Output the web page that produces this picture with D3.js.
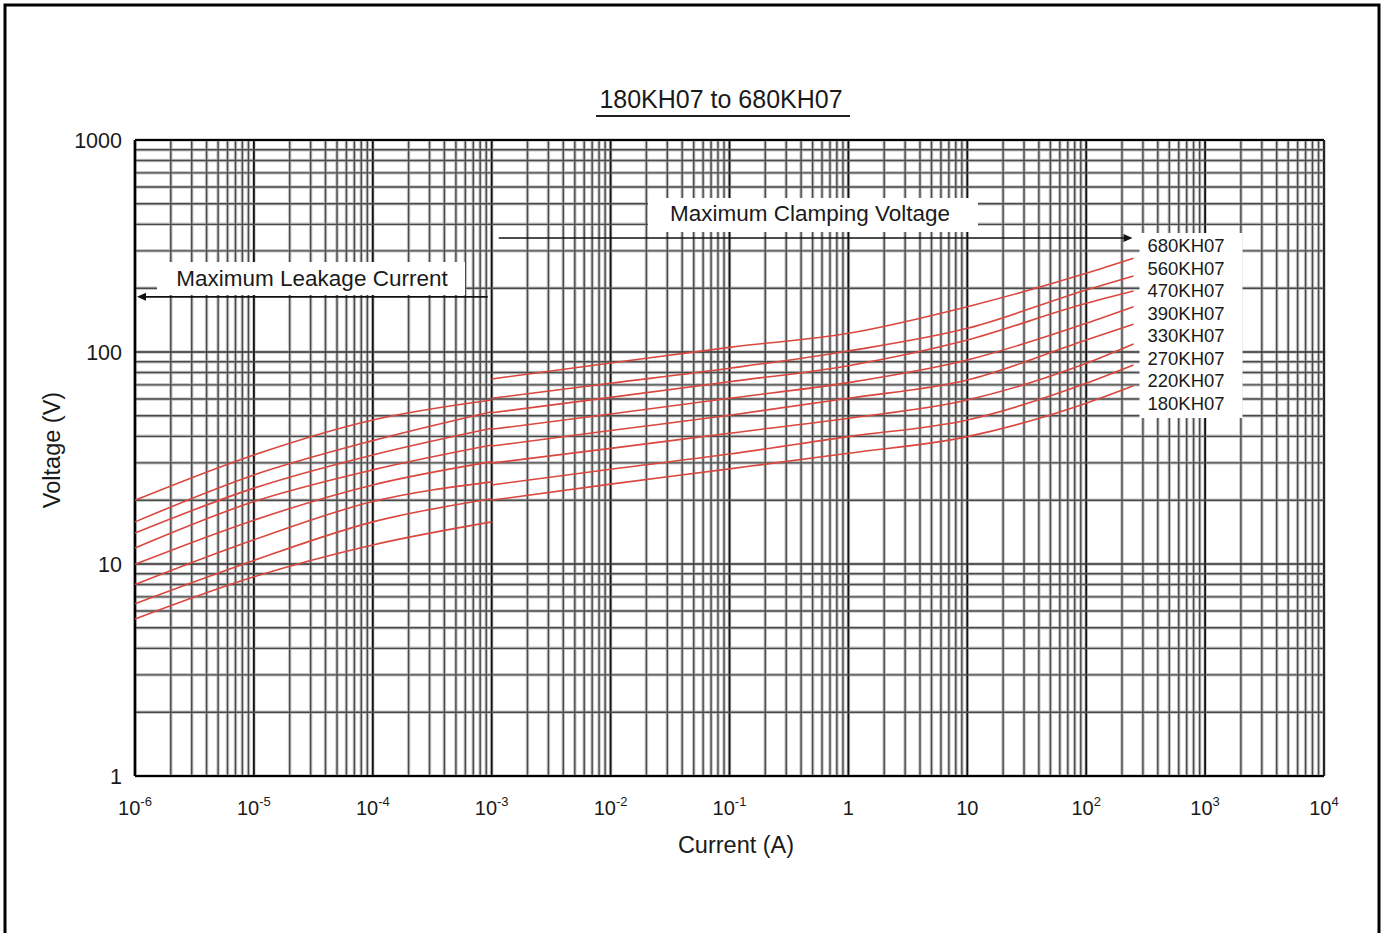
<!DOCTYPE html>
<html>
<head>
<meta charset="utf-8">
<script src="https://cdn.jsdelivr.net/npm/d3@7"></script>
<style>
  body { margin: 0; background: #fff; }
  text { font-family: "Liberation Sans", Arial, sans-serif; fill: #1a1a1a; }
</style>
</head>
<body>
<div id="chart"></div>
<script>
// series, top to bottom
const seriesNames = ["680KH07", "560KH07", "470KH07", "390KH07", "330KH07", "270KH07", "220KH07", "180KH07"];

// leakage current region (A) and voltages (V) per series
const leakCurrent = [1e-6, 1e-5, 1e-4, 1e-3];
const leakVoltage = [
  [20.0, 32.7, 47.8, 59.4],
  [15.8, 26.3, 38.2, 52.3],
  [14.0, 22.8, 32.7, 43.7],
  [11.9, 19.7, 27.8, 36.4],
  [9.97, 16.1, 23.6, 30.4],
  [8.0, 13.0, 19.7, 24.4],
  [6.5, 10.4, 15.8, 20.3],
  [5.5, 8.7, 12.3, 15.8]
];

// clamping voltage region (A) and voltages (V) per series
const clampCurrent = [1e-3, 1e-2, 1e-1, 1, 10, 100, 250];
const clampVoltage = [
  [74.6, 88.7, 105.2, 122.5, 163.6, 235.0, 276.7],
  [60.5, 71.2, 83.8, 101.1, 129.3, 196.1, 228.3],
  [51.7, 61.1, 72.4, 86.2, 113.9, 169.7, 194.0],
  [43.2, 51.0, 60.5, 71.7, 91.7, 136.6, 163.6],
  [36.0, 42.6, 50.3, 60.5, 73.8, 113.9, 135.1],
  [29.9, 35.1, 41.4, 48.7, 59.4, 88.4, 109.1],
  [23.6, 28.0, 33.0, 39.9, 47.8, 71.2, 86.8],
  [20.0, 23.8, 28.1, 33.3, 39.9, 57.3, 69.3]
];

// axis ticks
const xTickValues = [1e-6, 1e-5, 1e-4, 1e-3, 1e-2, 1e-1, 1, 10, 100, 1000, 10000];
const xTickLabels = [["10", "-6"], ["10", "-5"], ["10", "-4"], ["10", "-3"], ["10", "-2"], ["10", "-1"], ["1", ""], ["10", ""], ["10", "2"], ["10", "3"], ["10", "4"]];
const yTickValues = [1, 10, 100, 1000];
const yTickLabels = ["1", "10", "100", "1000"];

const config = {
  containerWidth: 1386,
  containerHeight: 933,
  margin: { top: 140, right: 62, bottom: 157, left: 135 }
};
const width = config.containerWidth - config.margin.left - config.margin.right;
const height = config.containerHeight - config.margin.top - config.margin.bottom;

const svg = d3.select("#chart").append("svg")
    .attr("width", config.containerWidth)
    .attr("height", config.containerHeight);

// outer frame
svg.append("rect")
    .attr("x", 5).attr("y", 5)
    .attr("width", 1374).attr("height", 1000)
    .attr("fill", "none")
    .attr("stroke", "#000")
    .attr("stroke-width", 3);

const chart = svg.append("g")
    .attr("transform", `translate(${config.margin.left},${config.margin.top})`);

const xScale = d3.scaleLog().domain([1e-6, 1e4]).range([0, width]);
const yScale = d3.scaleLog().domain([1, 1000]).range([height, 0]);

// grid values: every 1..9 inside each decade
const xGrid = [];
d3.range(-6, 4).forEach(e => d3.range(1, 10).forEach(m => xGrid.push(m * Math.pow(10, e))));
xGrid.push(1e4);
const yGrid = [];
d3.range(0, 3).forEach(e => d3.range(1, 10).forEach(m => yGrid.push(m * Math.pow(10, e))));
yGrid.push(1000);

const isMajor = v => Math.abs(Math.log10(v) - Math.round(Math.log10(v))) < 1e-9;

const grid = chart.append("g").attr("class", "grid");

// soft halo under every grid line
grid.selectAll("line.vhalo").data(xGrid).join("line")
    .attr("class", "vhalo")
    .attr("x1", d => xScale(d)).attr("x2", d => xScale(d))
    .attr("y1", 0).attr("y2", height)
    .attr("stroke", "#c8c8c8").attr("stroke-width", 3.5);
grid.selectAll("line.hhalo").data(yGrid).join("line")
    .attr("class", "hhalo")
    .attr("y1", d => yScale(d)).attr("y2", d => yScale(d))
    .attr("x1", 0).attr("x2", width)
    .attr("stroke", "#c8c8c8").attr("stroke-width", 3.5);

grid.selectAll("line.v").data(xGrid).join("line")
    .attr("class", "v")
    .attr("x1", d => xScale(d)).attr("x2", d => xScale(d))
    .attr("y1", 0).attr("y2", height)
    .attr("stroke", d => isMajor(d) ? "#111" : "#4a4a4a")
    .attr("stroke-width", d => isMajor(d) ? 1.8 : 1.4);
grid.selectAll("line.h").data(yGrid).join("line")
    .attr("class", "h")
    .attr("y1", d => yScale(d)).attr("y2", d => yScale(d))
    .attr("x1", 0).attr("x2", width)
    .attr("stroke", d => isMajor(d) ? "#333" : "#4a4a4a")
    .attr("stroke-width", d => isMajor(d) ? 1.5 : 1.4);

// axis lines
chart.append("line").attr("x1", 0).attr("x2", 0).attr("y1", 0).attr("y2", height)
    .attr("stroke", "#000").attr("stroke-width", 2.5);
chart.append("line").attr("x1", 0).attr("x2", width).attr("y1", height).attr("y2", height)
    .attr("stroke", "#000").attr("stroke-width", 2);
chart.append("line").attr("x1", 0).attr("x2", width).attr("y1", 0).attr("y2", 0)
    .attr("stroke", "#000").attr("stroke-width", 2);

// curves
const line = d3.line()
    .x(d => xScale(d[0]))
    .y(d => yScale(d[1]))
    .curve(d3.curveMonotoneX);

const curves = chart.append("g").attr("class", "curves");
seriesNames.forEach((name, i) => {
  curves.append("path")
      .attr("d", line(leakCurrent.map((c, j) => [c, leakVoltage[i][j]])))
      .attr("fill", "none").attr("stroke", "#d9473f").attr("stroke-width", 1.6);
  curves.append("path")
      .attr("d", line(clampCurrent.map((c, j) => [c, clampVoltage[i][j]])))
      .attr("fill", "none").attr("stroke", "#d9473f").attr("stroke-width", 1.6);
});

// annotations: white boxes over the grid
const annot = chart.append("g").attr("class", "annotations");

// Maximum Leakage Current
annot.append("rect")
    .attr("x", 22).attr("y", 122).attr("width", 308).attr("height", 33)
    .attr("fill", "#fff");
annot.append("text")
    .attr("x", 177).attr("y", 146)
    .attr("text-anchor", "middle")
    .attr("font-size", 22.5)
    .text("Maximum Leakage Current");
const leakY = yScale(182);
annot.append("line")
    .attr("x1", xScale(1e-3) - 4).attr("x2", 6)
    .attr("y1", leakY).attr("y2", leakY)
    .attr("stroke", "#111").attr("stroke-width", 1.6);
annot.append("path")
    .attr("d", `M2,${leakY} l9,-4 l0,8 z`)
    .attr("fill", "#111");

// Maximum Clamping Voltage
annot.append("rect")
    .attr("x", 513).attr("y", 58).attr("width", 330).attr("height", 34)
    .attr("fill", "#fff");
annot.append("text")
    .attr("x", 675).attr("y", 81)
    .attr("text-anchor", "middle")
    .attr("font-size", 22.5)
    .text("Maximum Clamping Voltage");
const clampY = yScale(345);
annot.append("line")
    .attr("x1", xScale(1e-3) + 7).attr("x2", xScale(250) - 6)
    .attr("y1", clampY).attr("y2", clampY)
    .attr("stroke", "#111").attr("stroke-width", 1.6);
annot.append("path")
    .attr("d", `M${xScale(250) - 1},${clampY} l-9,-4 l0,8 z`)
    .attr("fill", "#111");

// series labels
const labelX = xScale(250) + 6;
annot.append("rect")
    .attr("x", labelX).attr("y", 93).attr("width", 103).attr("height", 185)
    .attr("fill", "#fff");
annot.selectAll("text.series").data(seriesNames).join("text")
    .attr("class", "series")
    .attr("x", labelX + 8)
    .attr("y", (d, i) => 112 + i * 22.5)
    .attr("font-size", 18.5)
    .text(d => d);

// y tick labels
chart.selectAll("text.ytick").data(yTickValues).join("text")
    .attr("class", "ytick")
    .attr("x", -13)
    .attr("y", d => yScale(d))
    .attr("dy", "0.36em")
    .attr("text-anchor", "end")
    .attr("font-size", 21.5)
    .text((d, i) => yTickLabels[i]);

// x tick labels with superscript exponents
const xt = chart.selectAll("text.xtick").data(xTickValues).join("text")
    .attr("class", "xtick")
    .attr("x", d => xScale(d))
    .attr("y", height + 39)
    .attr("text-anchor", "middle")
    .attr("font-size", 20);
xt.append("tspan").text((d, i) => xTickLabels[i][0]);
xt.append("tspan")
    .attr("font-size", 13)
    .attr("dy", -9)
    .text((d, i) => xTickLabels[i][1]);

// axis titles
chart.append("text")
    .attr("x", 601).attr("y", height + 77)
    .attr("text-anchor", "middle")
    .attr("font-size", 23.5)
    .text("Current (A)");
chart.append("text")
    .attr("transform", `translate(-75,${310}) rotate(-90)`)
    .attr("text-anchor", "middle")
    .attr("font-size", 23.5)
    .text("Voltage (V)");

// chart title with underline
svg.append("text")
    .attr("x", 721).attr("y", 108)
    .attr("text-anchor", "middle")
    .attr("font-size", 25)
    .text("180KH07 to 680KH07");
svg.append("line")
    .attr("x1", 596).attr("x2", 850)
    .attr("y1", 116).attr("y2", 116)
    .attr("stroke", "#222").attr("stroke-width", 2);
</script>
</body>
</html>
